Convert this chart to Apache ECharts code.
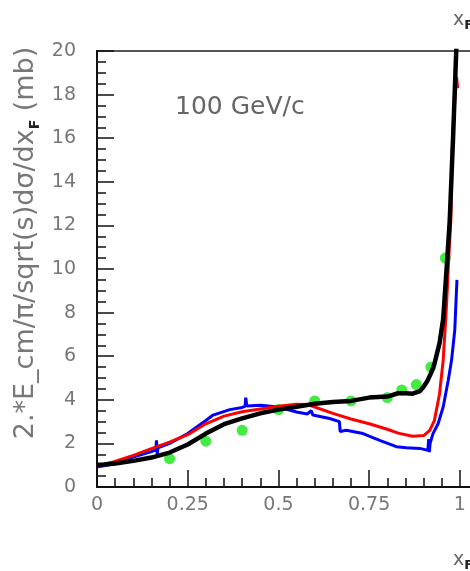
<!DOCTYPE html>
<html>
<head>
<meta charset="utf-8">
<script src="https://cdn.jsdelivr.net/npm/echarts@6/dist/echarts.min.js"></script>
<style>
  html, body { margin: 0; padding: 0; background: #fff; overflow: hidden; }
  /* the frame runs past the right edge of the window */
  #chart { width: 478px; height: 571px; }
</style>
</head>
<body>
<div id="chart"></div>
<script>
// Axis ticks
const xTicks = [0, 0.25, 0.5, 0.75, 1];
const yTicks = [0, 2, 4, 6, 8, 10, 12, 14, 16, 18, 20];

// Black curve
const blackX = [0, 0.02, 0.05, 0.1, 0.15, 0.2, 0.25, 0.3, 0.35, 0.4, 0.45, 0.5, 0.55, 0.6, 0.65, 0.7, 0.75, 0.8, 0.83, 0.85, 0.87, 0.89, 0.9, 0.91, 0.92, 0.93, 0.944, 0.954, 0.963, 0.972, 0.981, 0.99, 0.994];
const blackY = [1.02, 1.03, 1.08, 1.2, 1.35, 1.58, 1.95, 2.45, 2.88, 3.15, 3.38, 3.55, 3.68, 3.82, 3.9, 3.95, 4.1, 4.15, 4.3, 4.3, 4.28, 4.4, 4.6, 4.85, 5.2, 5.65, 6.6, 7.7, 9.9, 12.2, 15.9, 20, 21.8];

// Red curve
const redX = [0, 0.045, 0.1, 0.15, 0.2, 0.25, 0.3, 0.35, 0.4, 0.45, 0.5, 0.55, 0.58, 0.6, 0.65, 0.7, 0.75, 0.8, 0.83, 0.87, 0.9, 0.917, 0.93, 0.944, 0.954, 0.963, 0.97, 0.975, 0.979, 0.985, 0.991, 0.994];
const redY = [0.98, 1.15, 1.45, 1.76, 2.06, 2.4, 2.9, 3.25, 3.45, 3.58, 3.7, 3.8, 3.78, 3.67, 3.38, 3.12, 2.9, 2.65, 2.47, 2.33, 2.36, 2.6, 3.06, 4.28, 5.8, 8.26, 10.7, 12.2, 15.5, 17.5, 18.8, 18.3];

// Blue curve
const blueX = [0, 0.045, 0.1, 0.15, 0.162, 0.164, 0.166, 0.168, 0.2, 0.25, 0.3, 0.32, 0.366, 0.4, 0.408, 0.41, 0.413, 0.45, 0.5, 0.55, 0.58, 0.59, 0.595, 0.6, 0.641, 0.668, 0.67, 0.687, 0.733, 0.779, 0.825, 0.853, 0.89, 0.912, 0.914, 0.916, 0.918, 0.926, 0.94, 0.954, 0.968, 0.977, 0.986, 0.992];
const blueY = [0.92, 1.05, 1.37, 1.62, 1.7, 2.14, 1.5, 1.8, 2.0, 2.45, 3.05, 3.3, 3.55, 3.65, 3.7, 4.1, 3.72, 3.75, 3.67, 3.44, 3.35, 3.5, 3.3, 3.3, 3.14, 3.0, 2.55, 2.6, 2.45, 2.14, 1.85, 1.8, 1.77, 1.68, 2.2, 1.6, 2.0, 2.45, 2.9, 3.67, 4.9, 5.8, 7.2, 9.5];

// Green data points
const greenX = [0.2, 0.3, 0.4, 0.5, 0.6, 0.7, 0.8, 0.84, 0.88, 0.92, 0.96];
const greenY = [1.3, 2.1, 2.6, 3.55, 3.95, 3.95, 4.1, 4.45, 4.7, 5.5, 10.5];

const zip = (xs, ys) => xs.map((x, i) => [x, ys[i]]);

const FONT = 'DejaVu Sans';
const LABEL_COLOR = '#777';
const AXIS_COLOR = '#111';

const chart = echarts.init(document.getElementById('chart'), null, { renderer: 'canvas' });

const subStyle = { fontFamily: FONT, fontSize: 13, fontWeight: 'bold', lineHeight: 14, verticalAlign: 'bottom', fill: '#222' };

const option = {
  animation: false,
  backgroundColor: '#fff',
  grid: {
    left: 97, top: 51, right: 0, bottom: 84,
    show: true, borderColor: '#555', borderWidth: 2, backgroundColor: 'transparent'
  },
  xAxis: [
    {
      type: 'value', min: 0, max: 1.05, interval: 0.25, position: 'bottom',
      axisLine: { show: true, onZero: false, lineStyle: { color: AXIS_COLOR, width: 2 } },
      axisTick: { inside: true, length: 17, lineStyle: { color: AXIS_COLOR, width: 1.5 } },
      axisLabel: {
        margin: 9, fontFamily: FONT, fontSize: 19, color: LABEL_COLOR, showMaxLabel: false,
        formatter: v => (xTicks.indexOf(v) >= 0 ? String(v) : '')
      },
      splitLine: { show: false }
    },
    {
      type: 'value', min: 0, max: 1.05, interval: 0.05, position: 'bottom',
      axisLine: { show: false, onZero: false },
      axisTick: { inside: true, length: 9, lineStyle: { color: AXIS_COLOR, width: 1.5 } },
      axisLabel: { show: false },
      splitLine: { show: false }
    }
  ],
  yAxis: {
    type: 'value', min: 0, max: 20, interval: 2,
    axisLine: { show: true, onZero: false, lineStyle: { color: AXIS_COLOR, width: 2 } },
    axisTick: { inside: true, length: 17, lineStyle: { color: AXIS_COLOR, width: 1.5 } },
    minorTick: { show: true, splitNumber: 4, length: 9, lineStyle: { color: AXIS_COLOR, width: 1.5 } },
    axisLabel: {
      margin: 21, fontFamily: FONT, fontSize: 19, color: LABEL_COLOR,
      formatter: v => (yTicks.indexOf(v) >= 0 ? String(v) : '')
    },
    splitLine: { show: false },
    minorSplitLine: { show: false }
  },
  series: [
    {
      type: 'scatter', name: 'data', data: zip(greenX, greenY),
      symbol: 'circle', symbolSize: 11, itemStyle: { color: '#14e614' }, z: 2
    },
    {
      type: 'line', name: 'blue', data: zip(blueX, blueY), showSymbol: false,
      lineStyle: { color: '#0000ff', width: 3 }, z: 3
    },
    {
      type: 'line', name: 'red', data: zip(redX, redY), showSymbol: false,
      lineStyle: { color: '#ff0000', width: 3 }, z: 4
    },
    {
      type: 'line', name: 'black', data: zip(blackX, blackY), showSymbol: false,
      lineStyle: { color: '#000000', width: 4.5 }, z: 5
    }
  ],
  graphic: [
    {
      type: 'text', x: 26, y: 243, rotation: Math.PI / 2,
      style: {
        text: '{a|2.*E_cm/π/sqrt(s)dσ/dx}{s|F}{a| (mb)}',
        align: 'center', verticalAlign: 'middle',
        rich: {
          a: { fontFamily: FONT, fontSize: 27, lineHeight: 32, fill: '#777' },
          s: Object.assign({}, subStyle, { fontSize: 14, lineHeight: 15 })
        }
      }
    },
    {
      type: 'text', x: 175, y: 107,
      style: { text: '100 GeV/c', fontFamily: FONT, fontSize: 25, fill: '#666', verticalAlign: 'middle' }
    },
    {
      type: 'text', x: 453, y: 20,
      style: {
        text: '{a|x}{s|F}', verticalAlign: 'middle',
        rich: { a: { fontFamily: FONT, fontSize: 19, lineHeight: 24, fill: '#666' }, s: subStyle }
      }
    },
    {
      type: 'text', x: 453, y: 560,
      style: {
        text: '{a|x}{s|F}', verticalAlign: 'middle',
        rich: { a: { fontFamily: FONT, fontSize: 19, lineHeight: 24, fill: '#666' }, s: subStyle }
      }
    }
  ]
};

chart.setOption(option);
</script>
</body>
</html>
